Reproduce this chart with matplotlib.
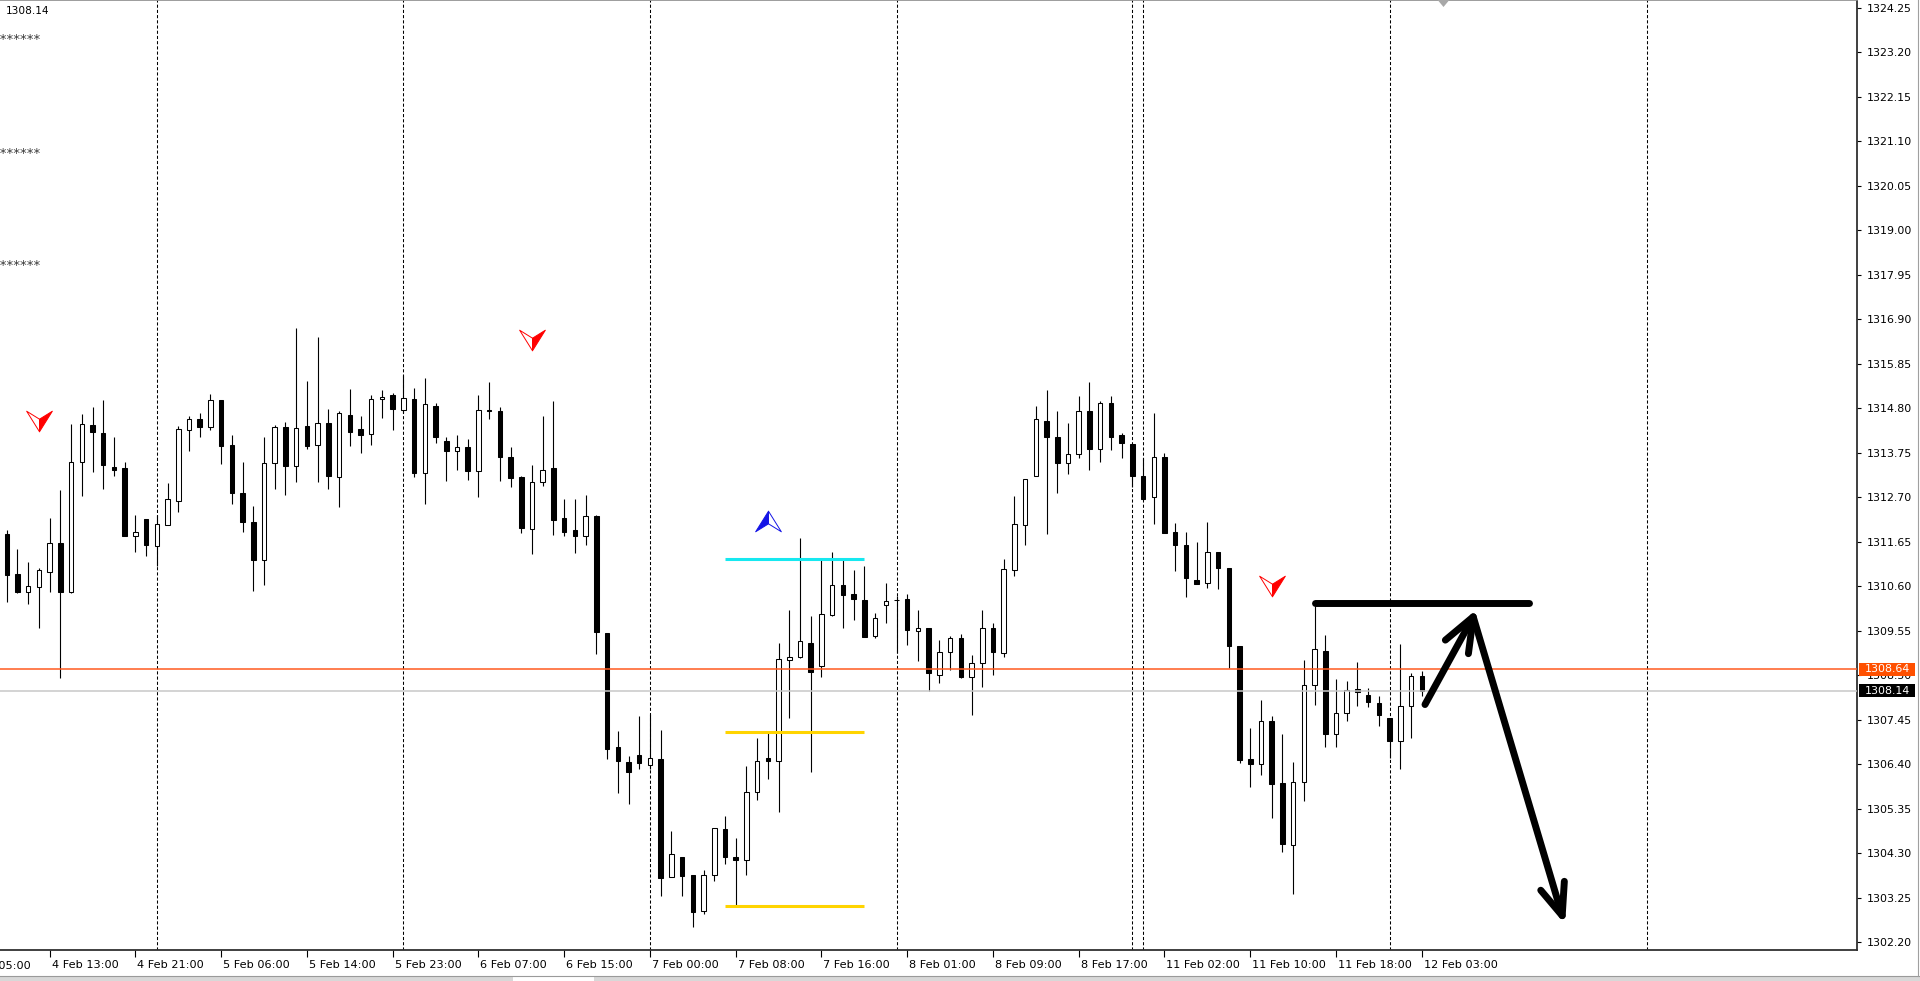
import numpy as np
import matplotlib
matplotlib.use("Agg")
import matplotlib.pyplot as plt
from matplotlib.path import Path
from matplotlib.patches import Rectangle
from matplotlib.lines import Line2D
import matplotlib.transforms as mtransforms

plt.rcParams['font.family'] = ['DejaVu Sans']

# H1 gold bars, bar 0 = 7 Feb 00:00 (the 22:00 bar is missing every day)
bar_idx = np.arange(-60, 73)

open_ = [
    1311.83, 1310.89, 1310.47, 1310.59, 1310.94, 1311.61, 1310.46, 1313.54, 1314.40, 1314.21,
    1313.41, 1313.39, 1311.79, 1312.18, 1311.54, 1312.04, 1312.62, 1314.29, 1314.55, 1314.35,
    1314.99, 1313.93, 1312.81, 1312.12, 1311.22, 1313.50, 1314.36, 1313.43, 1314.37, 1313.94,
    1314.44, 1313.17, 1314.65, 1314.30, 1314.20, 1315.02, 1315.12, 1314.76, 1315.02, 1313.28,
    1314.86, 1314.02, 1313.78, 1313.89, 1313.31, 1314.75, 1314.74, 1313.64, 1313.17, 1311.95,
    1313.06, 1313.38, 1312.22, 1311.92, 1311.78, 1312.26, 1309.50, 1306.81, 1306.45, 1306.62,
    1306.39, 1306.52, 1303.74, 1304.22, 1303.80, 1302.93, 1303.80, 1304.87, 1304.21, 1304.15,
    1305.74, 1306.55, 1306.48, 1308.86, 1308.94, 1309.27, 1308.72, 1309.93, 1310.63, 1310.41,
    1310.28, 1309.42, 1310.15, 1310.27, 1310.30, 1309.55, 1309.61, 1308.51, 1309.06, 1309.39,
    1308.46, 1308.80, 1309.61, 1309.02, 1310.99, 1312.05, 1313.19, 1314.51, 1314.11, 1313.50,
    1313.72, 1314.74, 1313.85, 1314.93, 1314.17, 1313.95, 1313.19, 1312.70, 1313.64, 1311.89,
    1311.58, 1310.74, 1310.67, 1311.41, 1311.04, 1309.20, 1306.52, 1306.40, 1307.43, 1305.96,
    1304.50, 1305.98, 1308.26, 1309.08, 1307.11, 1307.62, 1308.17, 1308.04, 1307.84, 1307.49,
    1306.94, 1307.77, 1308.49,
]
high = [
    1311.92, 1311.48, 1311.17, 1311.03, 1312.22, 1312.88, 1314.42, 1314.66, 1314.84, 1315.00,
    1314.12, 1313.54, 1312.29, 1312.18, 1312.29, 1313.03, 1314.37, 1314.61, 1314.68, 1315.13,
    1314.99, 1314.17, 1313.54, 1312.50, 1314.11, 1314.41, 1314.48, 1316.69, 1315.44, 1316.48,
    1314.78, 1314.74, 1315.25, 1314.61, 1315.11, 1315.22, 1315.16, 1315.59, 1315.27, 1315.51,
    1314.93, 1314.13, 1314.17, 1314.08, 1315.11, 1315.41, 1314.84, 1313.89, 1313.20, 1313.47,
    1314.62, 1314.97, 1312.67, 1312.67, 1312.75, 1312.28, 1309.50, 1307.19, 1306.59, 1307.53,
    1307.58, 1307.21, 1304.82, 1304.22, 1303.80, 1303.90, 1304.90, 1305.19, 1304.66, 1306.37,
    1307.03, 1307.14, 1309.26, 1310.04, 1311.74, 1309.89, 1311.22, 1311.40, 1311.22, 1310.99,
    1311.07, 1309.97, 1310.67, 1310.36, 1310.41, 1310.04, 1309.61, 1309.34, 1309.43, 1309.47,
    1308.98, 1310.04, 1309.73, 1311.24, 1312.72, 1313.13, 1314.86, 1315.22, 1314.74, 1314.46,
    1315.08, 1315.41, 1314.96, 1315.08, 1314.21, 1313.95, 1313.62, 1314.68, 1313.74, 1312.09,
    1311.87, 1311.64, 1312.11, 1311.41, 1311.04, 1309.20, 1307.26, 1307.91, 1307.54, 1307.12,
    1306.45, 1308.86, 1310.13, 1309.44, 1308.42, 1308.36, 1308.82, 1308.19, 1308.02, 1307.49,
    1309.24, 1308.55, 1308.59,
]
low = [
    1310.22, 1310.44, 1310.18, 1309.61, 1310.46, 1308.43, 1310.44, 1312.73, 1313.30, 1312.90,
    1313.21, 1311.79, 1311.41, 1311.32, 1311.07, 1312.04, 1312.35, 1313.80, 1314.13, 1314.28,
    1313.49, 1312.54, 1311.88, 1310.49, 1310.62, 1312.89, 1312.76, 1313.05, 1313.84, 1313.05,
    1312.89, 1312.48, 1313.90, 1313.74, 1313.94, 1314.56, 1314.28, 1314.68, 1313.17, 1312.55,
    1313.98, 1313.09, 1313.35, 1313.10, 1312.70, 1314.54, 1313.09, 1312.95, 1311.85, 1311.35,
    1312.97, 1311.82, 1311.79, 1311.38, 1311.57, 1309.01, 1306.53, 1305.72, 1305.47, 1306.29,
    1306.29, 1303.30, 1303.74, 1303.30, 1302.56, 1302.88, 1303.64, 1304.05, 1303.07, 1303.79,
    1305.56, 1306.06, 1305.28, 1307.49, 1308.90, 1306.22, 1308.47, 1309.90, 1309.61, 1309.81,
    1309.40, 1309.38, 1309.73, 1309.02, 1309.22, 1308.83, 1308.12, 1308.31, 1308.63, 1308.43,
    1307.57, 1308.22, 1308.51, 1308.94, 1310.85, 1311.58, 1313.19, 1311.83, 1312.81, 1313.25,
    1313.62, 1313.34, 1313.54, 1313.82, 1313.62, 1312.95, 1312.64, 1312.07, 1311.85, 1310.97,
    1310.34, 1310.66, 1310.57, 1310.53, 1308.68, 1306.44, 1305.86, 1306.14, 1305.13, 1304.33,
    1303.33, 1305.54, 1307.79, 1306.80, 1306.80, 1307.43, 1307.77, 1307.75, 1307.31, 1306.55,
    1306.28, 1307.01, 1308.02,
]
close = [
    1310.87, 1310.46, 1310.60, 1310.98, 1311.61, 1310.46, 1313.54, 1314.42, 1314.23, 1313.47,
    1313.34, 1311.79, 1311.89, 1311.57, 1312.06, 1312.66, 1314.30, 1314.55, 1314.35, 1314.99,
    1313.92, 1312.80, 1312.11, 1311.22, 1313.50, 1314.36, 1313.43, 1314.33, 1313.90, 1314.44,
    1313.21, 1314.69, 1314.25, 1314.16, 1315.02, 1315.06, 1314.79, 1315.05, 1313.27, 1314.90,
    1314.13, 1313.78, 1313.89, 1313.31, 1314.77, 1314.73, 1313.65, 1313.16, 1311.98, 1313.06,
    1313.35, 1312.17, 1311.89, 1311.79, 1312.26, 1309.52, 1306.77, 1306.48, 1306.23, 1306.43,
    1306.55, 1303.73, 1304.28, 1303.77, 1302.92, 1303.80, 1304.90, 1304.21, 1304.15, 1305.74,
    1306.49, 1306.48, 1308.89, 1308.94, 1309.30, 1308.57, 1309.94, 1310.63, 1310.40, 1310.30,
    1309.40, 1309.85, 1310.26, 1310.27, 1309.57, 1309.61, 1308.55, 1309.06, 1309.39, 1308.46,
    1308.79, 1309.61, 1309.04, 1311.00, 1312.08, 1313.13, 1314.55, 1314.11, 1313.50, 1313.72,
    1314.74, 1313.85, 1314.93, 1314.13, 1313.98, 1313.21, 1312.66, 1313.64, 1311.85, 1311.58,
    1310.79, 1310.66, 1311.41, 1311.04, 1309.20, 1306.51, 1306.40, 1307.43, 1305.94, 1304.53,
    1305.98, 1308.26, 1309.12, 1307.11, 1307.62, 1308.15, 1308.11, 1307.87, 1307.56, 1306.94,
    1307.77, 1308.49, 1308.14,
]

# axes
price_ticks = [1302.20, 1303.25, 1304.30, 1305.35, 1306.40, 1307.45, 1308.50, 1309.55,
               1310.60, 1311.65, 1312.70, 1313.75, 1314.80, 1315.85, 1316.90, 1317.95,
               1319.00, 1320.05, 1321.10, 1322.15, 1323.20, 1324.25]
time_ticks = [-64, -56, -48, -40, -32, -24, -16, -8, 0, 8, 16, 24, 32, 40, 48, 56, 64, 72]
time_labels = ['4 Feb 05:00', '4 Feb 13:00', '4 Feb 21:00', '5 Feb 06:00', '5 Feb 14:00',
               '5 Feb 23:00', '6 Feb 07:00', '6 Feb 15:00', '7 Feb 00:00', '7 Feb 08:00',
               '7 Feb 16:00', '8 Feb 01:00', '8 Feb 09:00', '8 Feb 17:00', '11 Feb 02:00',
               '11 Feb 10:00', '11 Feb 18:00', '12 Feb 03:00']
day_separators = [-46, -23, 0, 23, 45, 46, 69, 93]

ask_price = 1308.64
bid_price = 1308.14

# signal arrows (bar, price)
sell_bars = [-57, -11, 58]
sell_prices = [1314.50, 1316.40, 1310.61]
buy_bars = [11]
buy_prices = [1312.13]

# levels drawn on 7 Feb
level_start, level_end = 7, 20
level_prices = [1311.25, 1307.17, 1303.06]
level_colors = ['#16e8f0', '#ffd400', '#ffd400']

# hand drawn projection
res_start, res_end, res_price = 62, 82, 1310.21
proj_bars = [72.3, 76.8, 85.1]
proj_prices = [1307.81, 1309.88, 1302.83]
head_up_bars = [74.2, 76.8, 76.35]
head_up_prices = [1309.33, 1309.88, 1309.01]
head_dn_bars = [83.1, 85.1, 85.3]
head_dn_prices = [1303.43, 1302.83, 1303.64]

shift_bar = 74


def arrow_half(side, down):
    # notched arrowhead cut in two halves along its axis
    sx = -1 if side == 'left' else 1
    if down:
        verts = [(sx, 0.8), (0, 0.18), (0, -0.8), (sx, 0.8)]
    else:
        verts = [(sx, -0.8), (0, -0.18), (0, 0.8), (sx, -0.8)]
    return Path(verts, [Path.MOVETO, Path.LINETO, Path.LINETO, Path.CLOSEPOLY])


if __name__ == "__main__":
    W, H = 1920, 981
    fig = plt.figure(figsize=(W / 100, H / 100), dpi=100)
    fig.patch.set_facecolor('white')
    ax = fig.add_axes([0, 31 / H, 1857 / W, 950 / H])
    ax.set_xlim(-60.63, 112.6)
    ax.set_ylim(1302.02, 1324.43)

    # day separators
    for b in day_separators:
        ax.axvline(b, color='black', lw=0.75, ls=(0, (3, 2)), zorder=1)

    # candles
    o = np.array(open_)
    c = np.array(close)
    up = c >= o
    body_lo = np.minimum(o, c)
    body_h = np.maximum(np.abs(c - o), 0.012)
    ax.vlines(bar_idx, low, high, color='black', lw=0.8, zorder=3)
    ax.bar(bar_idx, body_h, width=0.42, bottom=body_lo,
           color=np.where(up, 'white', 'black'), edgecolor='black',
           linewidth=0.75, zorder=4)

    # bid / ask lines
    ax.axhline(ask_price, color='#ff5a1f', lw=1.1, zorder=5)
    ax.axhline(bid_price, color='#c8c8c8', lw=1.1, zorder=5)

    # levels
    for p, col in zip(level_prices, level_colors):
        ax.plot([level_start, level_end], [p, p], color=col, lw=2.2,
                solid_capstyle='butt', zorder=5)

    # signal arrows
    for side, face in (('left', 'white'), ('right', '#ff0000')):
        ax.plot(sell_bars, sell_prices, ls='none', marker=arrow_half(side, True),
                ms=18.5, mfc=face, mec='#ff0000', mew=0.7, zorder=7)
    for side, face in (('left', '#1414e6'), ('right', 'white')):
        ax.plot(buy_bars, buy_prices, ls='none', marker=arrow_half(side, False),
                ms=18.5, mfc=face, mec='#1414e6', mew=0.7, zorder=7)

    # hand drawn resistance + projection
    kw = dict(color='black', lw=5, solid_capstyle='round', solid_joinstyle='round', zorder=8)
    ax.plot([res_start, res_end], [res_price, res_price], **kw)
    ax.plot(proj_bars, proj_prices, **kw)
    ax.plot(head_up_bars, head_up_prices, **kw)
    ax.plot(head_dn_bars, head_dn_prices, **kw)

    # chart shift marker
    shift_mark = Path([(-1, 0.6), (1, 0.6), (0, -0.6), (-1, 0.6)],
                      [Path.MOVETO, Path.LINETO, Path.LINETO, Path.CLOSEPOLY])
    ax.plot([shift_bar], [1324.43 - 3.5 / 42.4], ls='none', marker=shift_mark,
            ms=8.4, color='#a8a8a8', mew=0, clip_on=False, zorder=9)

    # spines
    ax.spines['left'].set_visible(False)
    ax.spines['top'].set_color('#8c8c8c')
    ax.spines['top'].set_linewidth(1.2)
    for s in ('right', 'bottom'):
        ax.spines[s].set_color('#303030')
        ax.spines[s].set_linewidth(1.3)

    # price axis
    ax.yaxis.tick_right()
    ax.set_yticks(price_ticks)
    ax.set_yticklabels([f'{p:.2f}' for p in price_ticks])
    ax.tick_params(axis='y', direction='out', length=3, width=0.8, pad=4,
                   labelsize=7.9, colors='black')

    # time axis
    vis = [i for i, t in enumerate(time_ticks) if t >= -60.63]
    ax.set_xticks([time_ticks[i] for i in vis])
    ax.set_xticklabels([time_labels[i] for i in vis])
    ax.tick_params(axis='x', direction='out', length=5, width=0.8, pad=2,
                   labelsize=8.1, colors='black')
    shift = mtransforms.ScaledTranslation(2 / 100, 0, fig.dpi_scale_trans)
    for lbl in ax.get_xticklabels():
        lbl.set_ha('left')
        lbl.set_transform(lbl.get_transform() + shift)
    ax.text(time_ticks[0], -0.0115, time_labels[0], transform=ax.get_xaxis_transform(),
            ha='left', va='top', fontsize=8.1, clip_on=False)

    # price boxes
    bx = mtransforms.blended_transform_factory(ax.transAxes, ax.transData)
    box_w = 56 / 1857
    box_h = 13 / 42.4
    for p, fc in ((ask_price, '#ff5000'), (bid_price, 'black')):
        ax.add_patch(Rectangle((1 + 2 / 1857, p - box_h / 2), box_w, box_h,
                               transform=bx, facecolor=fc, edgecolor='none',
                               clip_on=False, zorder=10))
        ax.text(1 + 2 / 1857 + box_w / 2, p, f'{p:.2f}', transform=bx, color='white',
                ha='center', va='center', fontsize=7.9, clip_on=False, zorder=11)

    # top-left labels
    ax.text(6 / 1857, 1 - 11 / 950, f'{bid_price:.2f}', transform=ax.transAxes,
            ha='left', va='center', fontsize=7.6, color='black')
    for ypx in (40, 153, 265):
        ax.text(41 / 1857, 1 - ypx / 950, '*******', transform=ax.transAxes,
                ha='right', va='center', fontsize=9.5, color='#383838',
                clip_on=True)

    # window chrome: tab bar at the bottom, border at the right
    fig.add_artist(Rectangle((0, 0), 1, 5 / H, transform=fig.transFigure,
                             facecolor='#d8d8d8', edgecolor='none'))
    fig.add_artist(Rectangle((513 / W, 0), 81 / W, 5 / H, transform=fig.transFigure,
                             facecolor='white', edgecolor='none'))
    fig.add_artist(Line2D([0, 1], [5 / H, 5 / H], transform=fig.transFigure,
                          color='#9a9a9a', lw=0.8))
    fig.add_artist(Line2D([1917.5 / W, 1917.5 / W], [5 / H, 1], transform=fig.transFigure,
                          color='#a0a0a0', lw=0.8))

    fig.savefig('out.png', dpi=100, facecolor='white')
